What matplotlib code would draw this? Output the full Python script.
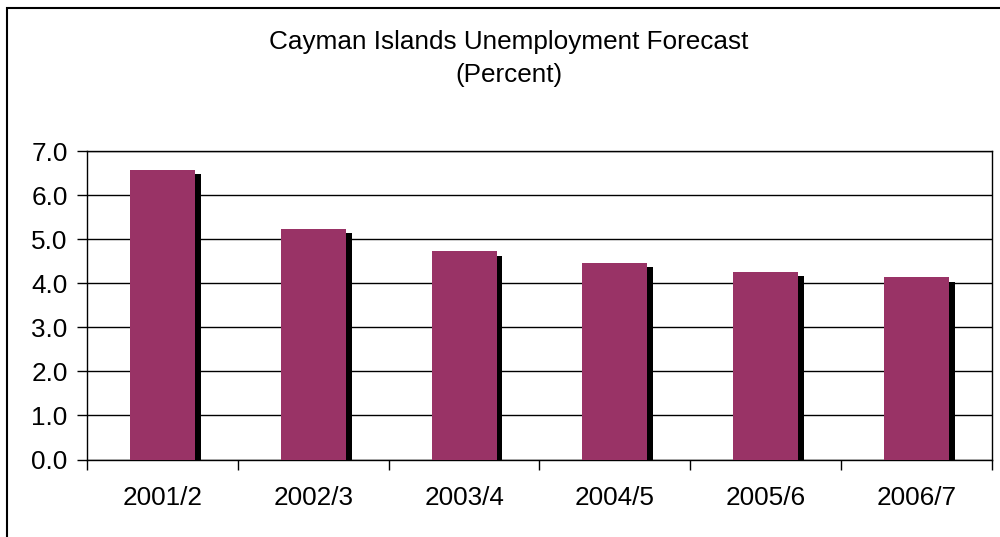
import matplotlib
matplotlib.use("Agg")
import matplotlib.pyplot as plt
import matplotlib.patheffects as pe
from matplotlib.patches import Rectangle

# data
years = ['2001/2', '2002/3', '2003/4', '2004/5', '2005/6', '2006/7']
unemployment = [6.58, 5.22, 4.72, 4.47, 4.25, 4.13]

bar_color = '#993366'
plt.rcParams['font.family'] = ['Liberation Sans', 'DejaVu Sans']

fig = plt.figure(figsize=(10, 5.37), dpi=100)
ax = fig.add_axes([0.087, 0.1443, 0.905, 0.5745])

x = list(range(len(years)))
shadow = [pe.SimplePatchShadow(offset=(4.3, -2.9), shadow_rgbFace='black', alpha=1.0, rho=1.0),
          pe.Normal()]
ax.bar(x, unemployment, width=0.43, color=bar_color, linewidth=0,
       path_effects=shadow, zorder=3)

ax.set_xlim(-0.5, len(years) - 0.5)
ax.set_ylim(0, 7)
ax.set_yticks([i for i in range(8)])
ax.set_yticklabels(['%.1f' % i for i in range(8)], fontsize=18.8)
ax.yaxis.grid(True, color='black', linewidth=1.0)
ax.set_axisbelow(True)

# ticks between categories, labels at the centres
ax.set_xticks([i - 0.5 for i in range(len(years) + 1)])
ax.set_xticklabels([])
ax.set_xticks(x, minor=True)
ax.set_xticklabels(years, minor=True, fontsize=18.8)
ax.tick_params(axis='x', which='major', length=7, width=1, color='black')
ax.tick_params(axis='x', which='minor', length=0, pad=19)
ax.tick_params(axis='y', length=7, width=1, pad=7)

for s in ax.spines.values():
    s.set_color('black')
    s.set_linewidth(1.0)

fig.text(0.509, 0.922, 'Cayman Islands Unemployment Forecast', ha='center', va='center', fontsize=18.8)
fig.text(0.509, 0.861, '(Percent)', ha='center', va='center', fontsize=18.8)

# outer chart frame (right and bottom sides fall outside the image)
fig.patches.append(Rectangle((0.0065, -0.2), 1.5, 0.986 + 0.2, transform=fig.transFigure,
                             fill=False, edgecolor='black', linewidth=1.5))

fig.savefig('out.png', dpi=100)
